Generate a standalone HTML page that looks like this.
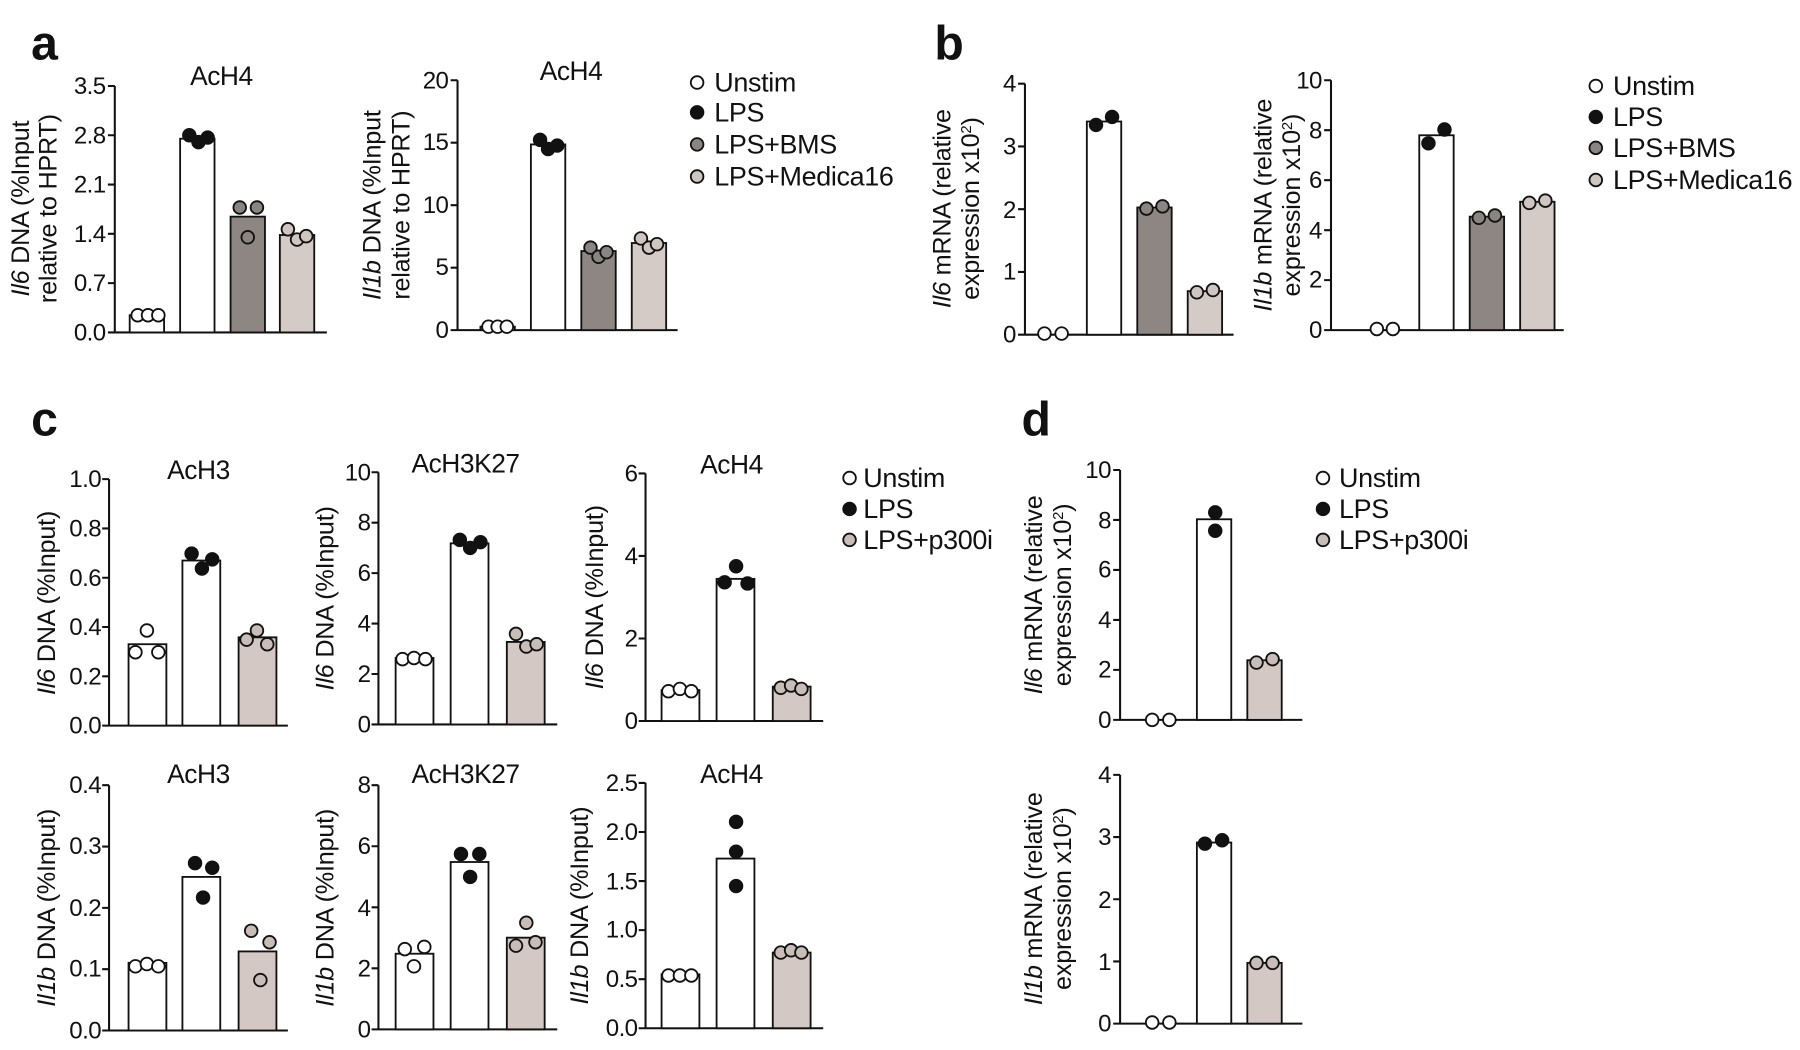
<!DOCTYPE html>
<html><head><meta charset="utf-8"><style>
html,body{margin:0;padding:0;background:#fff;}
svg{display:block;}
text{font-family:"Liberation Sans",Arial,sans-serif;fill:#111;}
.t{font-size:21px;text-anchor:end;letter-spacing:-0.5px;}
.ti{font-size:23px;text-anchor:middle;letter-spacing:-0.4px;}
.lg{font-size:23.5px;letter-spacing:-0.3px;}
.yl{font-size:22px;text-anchor:middle;letter-spacing:-0.2px;}
.L{font-size:42px;font-weight:bold;}
.ax{stroke:#111;stroke-width:1.8;fill:none;}
.b{stroke:#111;stroke-width:1.6;}
.d{stroke:#111;stroke-width:1.6;}
</style></head><body>
<svg width="1800" height="1050" viewBox="0 0 1568 916" xmlns="http://www.w3.org/2000/svg">
<text class="L" x="26" y="52">a</text>
<text class="L" x="814" y="52">b</text>
<text class="L" x="26" y="380">c</text>
<text class="L" x="890" y="380">d</text>

<!-- a1 -->
<path class="ax" d="M99 75V290H284 M93 75H99 M93 118H99 M93 161H99 M93 204H99 M93 247H99 M93 290H99"/>
<text class="t" x="91" y="82">3.5</text><text class="t" x="91" y="125">2.8</text><text class="t" x="91" y="168">2.1</text><text class="t" x="91" y="211">1.4</text><text class="t" x="91" y="254">0.7</text><text class="t" x="91" y="297">0.0</text>
<text class="ti" x="192" y="74">AcH4</text>
<text class="yl" transform="translate(24,182) rotate(-90)"><tspan font-style="italic">Il6</tspan> DNA (%Input</text>
<text class="yl" transform="translate(48,182) rotate(-90)">relative to HPRT)</text>
<rect class="b" x="112" y="275" width="30" height="15" fill="#fff"/>
<rect class="b" x="156" y="121" width="30" height="169" fill="#fff"/>
<rect class="b" x="200" y="189" width="30" height="101" fill="#8e8682"/>
<rect class="b" x="243" y="205" width="30" height="85" fill="#d4cac6"/>
<g class="d" fill="#fff"><circle cx="119" cy="275" r="5.5"/><circle cx="128" cy="275" r="5.5"/><circle cx="137" cy="275" r="5.5"/></g>
<g class="d" fill="#111"><circle cx="164" cy="118" r="5.5"/><circle cx="172" cy="124" r="5.5"/><circle cx="180" cy="120" r="5.5"/></g>
<g class="d" fill="#8a8482"><circle cx="208" cy="181" r="5.5"/><circle cx="223" cy="181" r="5.5"/><circle cx="215" cy="207" r="5.5"/></g>
<g class="d" fill="#cfc5c1"><circle cx="250" cy="200" r="5.5"/><circle cx="258" cy="209" r="5.5"/><circle cx="266" cy="206" r="5.5"/></g>

<!-- a2 -->
<path class="ax" d="M398 70V288H590 M392 70H398 M392 124.5H398 M392 179H398 M392 233.5H398 M392 288H398"/>
<text class="t" x="390" y="77">20</text><text class="t" x="390" y="131">15</text><text class="t" x="390" y="186">10</text><text class="t" x="390" y="240">5</text><text class="t" x="390" y="295">0</text>
<text class="ti" x="497" y="70">AcH4</text>
<text class="yl" transform="translate(331,179) rotate(-90)"><tspan font-style="italic">Il1b</tspan> DNA (%Input</text>
<text class="yl" transform="translate(356,179) rotate(-90)">relative to HPRT)</text>
<rect class="b" x="418" y="285" width="30" height="3" fill="#fff"/>
<rect class="b" x="462" y="126" width="30" height="162" fill="#fff"/>
<rect class="b" x="506" y="219" width="30" height="69" fill="#8e8682"/>
<rect class="b" x="550" y="212" width="30" height="76" fill="#d4cac6"/>
<g class="d" fill="#fff"><circle cx="425" cy="285" r="5.5"/><circle cx="433" cy="285" r="5.5"/><circle cx="441" cy="285" r="5.5"/></g>
<g class="d" fill="#111"><circle cx="470" cy="122" r="5.5"/><circle cx="477" cy="130" r="5.5"/><circle cx="485" cy="127" r="5.5"/></g>
<g class="d" fill="#8a8482"><circle cx="514" cy="216" r="5.5"/><circle cx="521" cy="224" r="5.5"/><circle cx="528" cy="220" r="5.5"/></g>
<g class="d" fill="#cfc5c1"><circle cx="558" cy="208" r="5.5"/><circle cx="565" cy="216" r="5.5"/><circle cx="572" cy="213" r="5.5"/></g>

<!-- legend a -->
<g class="d"><circle cx="607" cy="72" r="5.5" fill="#fff"/><circle cx="607" cy="98" r="5.5" fill="#111"/><circle cx="607" cy="126" r="5.5" fill="#8a8482"/><circle cx="607" cy="154" r="5.5" fill="#cfc5c1"/></g>
<text class="lg" x="622" y="80">Unstim</text><text class="lg" x="622" y="106">LPS</text><text class="lg" x="622" y="134">LPS+BMS</text><text class="lg" x="622" y="162">LPS+Medica16</text>

<!-- b1 -->
<path class="ax" d="M893 73V292H1075 M887 73H893 M887 127.75H893 M887 182.5H893 M887 237.25H893 M887 292H893"/>
<text class="t" x="885" y="80">4</text><text class="t" x="885" y="135">3</text><text class="t" x="885" y="190">2</text><text class="t" x="885" y="244">1</text><text class="t" x="885" y="299">0</text>
<text class="yl" transform="translate(828,182) rotate(-90)"><tspan font-style="italic">Il6</tspan> mRNA (relative</text>
<text class="yl" transform="translate(853,182) rotate(-90)">expression x10<tspan font-size="13" dy="-7">2</tspan><tspan dy="7">)</tspan></text>
<rect class="b" x="947" y="106" width="30" height="186" fill="#fff"/>
<rect class="b" x="991" y="181" width="30" height="111" fill="#8e8682"/>
<rect class="b" x="1035" y="254" width="30" height="38" fill="#d4cac6"/>
<g class="d"><circle cx="910" cy="291" r="5.5" fill="#fff"/><circle cx="925" cy="291" r="5.5" fill="#fff"/>
<circle cx="955" cy="109" r="5.5" fill="#111"/><circle cx="969" cy="102" r="5.5" fill="#111"/>
<circle cx="999" cy="182" r="5.5" fill="#8a8482"/><circle cx="1013" cy="180" r="5.5" fill="#8a8482"/>
<circle cx="1043" cy="255" r="5.5" fill="#cfc5c1"/><circle cx="1057" cy="253" r="5.5" fill="#cfc5c1"/></g>

<!-- b2 -->
<path class="ax" d="M1160 70V288H1363 M1154 70H1160 M1154 113.6H1160 M1154 157.2H1160 M1154 200.8H1160 M1154 244.4H1160 M1154 288H1160"/>
<text class="t" x="1152" y="77">10</text><text class="t" x="1152" y="121">8</text><text class="t" x="1152" y="164">6</text><text class="t" x="1152" y="208">4</text><text class="t" x="1152" y="251">2</text><text class="t" x="1152" y="295">0</text>
<text class="yl" transform="translate(1108,179) rotate(-90)"><tspan font-style="italic">Il1b</tspan> mRNA (relative</text>
<text class="yl" transform="translate(1133,179) rotate(-90)">expression x10<tspan font-size="13" dy="-7">2</tspan><tspan dy="7">)</tspan></text>
<rect class="b" x="1237" y="118" width="30" height="170" fill="#fff"/>
<rect class="b" x="1281" y="189" width="30" height="99" fill="#8e8682"/>
<rect class="b" x="1325" y="176" width="30" height="112" fill="#d4cac6"/>
<g class="d"><circle cx="1200" cy="287" r="5.5" fill="#fff"/><circle cx="1214" cy="287" r="5.5" fill="#fff"/>
<circle cx="1245" cy="125" r="5.5" fill="#111"/><circle cx="1259" cy="113" r="5.5" fill="#111"/>
<circle cx="1289" cy="190" r="5.5" fill="#8a8482"/><circle cx="1303" cy="188" r="5.5" fill="#8a8482"/>
<circle cx="1333" cy="177" r="5.5" fill="#cfc5c1"/><circle cx="1347" cy="175" r="5.5" fill="#cfc5c1"/></g>

<!-- legend b -->
<g class="d"><circle cx="1391" cy="75" r="5.5" fill="#fff"/><circle cx="1391" cy="102" r="5.5" fill="#111"/><circle cx="1391" cy="129" r="5.5" fill="#8a8482"/><circle cx="1391" cy="157" r="5.5" fill="#cfc5c1"/></g>
<text class="lg" x="1406" y="83">Unstim</text><text class="lg" x="1406" y="110">LPS</text><text class="lg" x="1406" y="137">LPS+BMS</text><text class="lg" x="1406" y="165">LPS+Medica16</text>

<!-- c1 -->
<path class="ax" d="M94 418V633H250 M88 418H94 M88 461H94 M88 504H94 M88 547H94 M88 590H94 M88 633H94"/>
<text class="t" x="87" y="425">1.0</text><text class="t" x="87" y="468">0.8</text><text class="t" x="87" y="511">0.6</text><text class="t" x="87" y="554">0.4</text><text class="t" x="87" y="597">0.2</text><text class="t" x="87" y="640">0.0</text>
<text class="ti" x="172" y="418">AcH3</text>
<text class="yl" transform="translate(47,526) rotate(-90)"><tspan font-style="italic">Il6</tspan> DNA (%Input)</text>
<rect class="b" x="111" y="562" width="33" height="71" fill="#fff"/>
<rect class="b" x="158" y="489" width="33" height="144" fill="#fff"/>
<rect class="b" x="207" y="556" width="33" height="77" fill="#d4c8c4"/>
<g class="d"><circle cx="117" cy="569" r="5.5" fill="#fff"/><circle cx="127" cy="550" r="5.5" fill="#fff"/><circle cx="137" cy="569" r="5.5" fill="#fff"/>
<circle cx="166" cy="483" r="5.5" fill="#111"/><circle cx="175" cy="496" r="5.5" fill="#111"/><circle cx="184" cy="488" r="5.5" fill="#111"/>
<circle cx="214" cy="558" r="5.5" fill="#c9bdb8"/><circle cx="223" cy="550" r="5.5" fill="#c9bdb8"/><circle cx="232" cy="562" r="5.5" fill="#c9bdb8"/></g>

<!-- c2 -->
<path class="ax" d="M329 412V632H485 M323 412H329 M323 456H329 M323 500H329 M323 544H329 M323 588H329 M323 632H329"/>
<text class="t" x="322" y="419">10</text><text class="t" x="322" y="463">8</text><text class="t" x="322" y="507">6</text><text class="t" x="322" y="551">4</text><text class="t" x="322" y="595">2</text><text class="t" x="322" y="639">0</text>
<text class="ti" x="405" y="412">AcH3K27</text>
<text class="yl" transform="translate(290,522) rotate(-90)"><tspan font-style="italic">Il6</tspan> DNA (%Input)</text>
<rect class="b" x="344" y="574" width="33" height="58" fill="#fff"/>
<rect class="b" x="392" y="474" width="33" height="158" fill="#fff"/>
<rect class="b" x="441" y="560" width="33" height="72" fill="#d4c8c4"/>
<g class="d"><circle cx="350" cy="575" r="5.5" fill="#fff"/><circle cx="360" cy="574" r="5.5" fill="#fff"/><circle cx="370" cy="575" r="5.5" fill="#fff"/>
<circle cx="400" cy="471" r="5.5" fill="#111"/><circle cx="409" cy="478" r="5.5" fill="#111"/><circle cx="418" cy="473" r="5.5" fill="#111"/>
<circle cx="449" cy="553" r="5.5" fill="#c9bdb8"/><circle cx="458" cy="564" r="5.5" fill="#c9bdb8"/><circle cx="467" cy="562" r="5.5" fill="#c9bdb8"/></g>

<!-- c3 -->
<path class="ax" d="M562 413V629H717 M556 413H562 M556 485H562 M556 557H562 M556 629H562"/>
<text class="t" x="555" y="420">6</text><text class="t" x="555" y="492">4</text><text class="t" x="555" y="564">2</text><text class="t" x="555" y="636">0</text>
<text class="ti" x="637" y="413">AcH4</text>
<text class="yl" transform="translate(525,521) rotate(-90)"><tspan font-style="italic">Il6</tspan> DNA (%Input)</text>
<rect class="b" x="576" y="602" width="33" height="27" fill="#fff"/>
<rect class="b" x="624" y="505" width="33" height="124" fill="#fff"/>
<rect class="b" x="673" y="599" width="33" height="30" fill="#d4c8c4"/>
<g class="d"><circle cx="582" cy="603" r="5.5" fill="#fff"/><circle cx="592" cy="601" r="5.5" fill="#fff"/><circle cx="602" cy="603" r="5.5" fill="#fff"/>
<circle cx="631" cy="508" r="5.5" fill="#111"/><circle cx="641" cy="494" r="5.5" fill="#111"/><circle cx="651" cy="509" r="5.5" fill="#111"/>
<circle cx="680" cy="600" r="5.5" fill="#c9bdb8"/><circle cx="689" cy="598" r="5.5" fill="#c9bdb8"/><circle cx="698" cy="601" r="5.5" fill="#c9bdb8"/></g>

<!-- legend c -->
<g class="d"><circle cx="740" cy="417" r="5.5" fill="#fff"/><circle cx="740" cy="444" r="5.5" fill="#111"/><circle cx="740" cy="471" r="5.5" fill="#c9bdb8"/></g>
<text class="lg" x="752" y="425">Unstim</text><text class="lg" x="752" y="452">LPS</text><text class="lg" x="752" y="479">LPS+p300i</text>

<!-- c4 -->
<path class="ax" d="M94 685V899H250 M88 685H94 M88 738.5H94 M88 792H94 M88 845.5H94 M88 899H94"/>
<text class="t" x="87" y="692">0.4</text><text class="t" x="87" y="745">0.3</text><text class="t" x="87" y="799">0.2</text><text class="t" x="87" y="852">0.1</text><text class="t" x="87" y="906">0.0</text>
<text class="ti" x="172" y="683">AcH3</text>
<text class="yl" transform="translate(47,792) rotate(-90)"><tspan font-style="italic">Il1b</tspan> DNA (%Input)</text>
<rect class="b" x="111" y="840" width="33" height="59" fill="#fff"/>
<rect class="b" x="158" y="765" width="33" height="134" fill="#fff"/>
<rect class="b" x="207" y="830" width="33" height="69" fill="#d4c8c4"/>
<g class="d"><circle cx="117" cy="843" r="5.5" fill="#fff"/><circle cx="127" cy="841" r="5.5" fill="#fff"/><circle cx="137" cy="843" r="5.5" fill="#fff"/>
<circle cx="169" cy="753" r="5.5" fill="#111"/><circle cx="184" cy="757" r="5.5" fill="#111"/><circle cx="176" cy="783" r="5.5" fill="#111"/>
<circle cx="218" cy="812" r="5.5" fill="#c9bdb8"/><circle cx="234" cy="822" r="5.5" fill="#c9bdb8"/><circle cx="226" cy="855" r="5.5" fill="#c9bdb8"/></g>

<!-- c5 -->
<path class="ax" d="M329 685V898H485 M323 685H329 M323 738.25H329 M323 791.5H329 M323 844.75H329 M323 898H329"/>
<text class="t" x="322" y="692">8</text><text class="t" x="322" y="745">6</text><text class="t" x="322" y="799">4</text><text class="t" x="322" y="852">2</text><text class="t" x="322" y="905">0</text>
<text class="ti" x="405" y="683">AcH3K27</text>
<text class="yl" transform="translate(290,792) rotate(-90)"><tspan font-style="italic">Il1b</tspan> DNA (%Input)</text>
<rect class="b" x="344" y="832" width="33" height="66" fill="#fff"/>
<rect class="b" x="392" y="752" width="33" height="146" fill="#fff"/>
<rect class="b" x="441" y="818" width="33" height="80" fill="#d4c8c4"/>
<g class="d"><circle cx="352" cy="828" r="5.5" fill="#fff"/><circle cx="369" cy="826" r="5.5" fill="#fff"/><circle cx="360" cy="843" r="5.5" fill="#fff"/>
<circle cx="401" cy="745" r="5.5" fill="#111"/><circle cx="417" cy="745" r="5.5" fill="#111"/><circle cx="409" cy="765" r="5.5" fill="#111"/>
<circle cx="449" cy="825" r="5.5" fill="#c9bdb8"/><circle cx="458" cy="805" r="5.5" fill="#c9bdb8"/><circle cx="466" cy="822" r="5.5" fill="#c9bdb8"/></g>

<!-- c6 -->
<path class="ax" d="M562 683V897H717 M556 683H562 M556 725.8H562 M556 768.6H562 M556 811.4H562 M556 854.2H562 M556 897H562"/>
<text class="t" x="555" y="690">2.5</text><text class="t" x="555" y="733">2.0</text><text class="t" x="555" y="776">1.5</text><text class="t" x="555" y="818">1.0</text><text class="t" x="555" y="861">0.5</text><text class="t" x="555" y="904">0.0</text>
<text class="ti" x="637" y="683">AcH4</text>
<text class="yl" transform="translate(512,790) rotate(-90)"><tspan font-style="italic">Il1b</tspan> DNA (%Input)</text>
<rect class="b" x="576" y="850" width="33" height="47" fill="#fff"/>
<rect class="b" x="624" y="749" width="33" height="148" fill="#fff"/>
<rect class="b" x="673" y="831" width="33" height="66" fill="#d4c8c4"/>
<g class="d"><circle cx="582" cy="851" r="5.5" fill="#fff"/><circle cx="592" cy="851" r="5.5" fill="#fff"/><circle cx="602" cy="851" r="5.5" fill="#fff"/>
<circle cx="641" cy="717" r="5.5" fill="#111"/><circle cx="641" cy="743" r="5.5" fill="#111"/><circle cx="641" cy="773" r="5.5" fill="#111"/>
<circle cx="680" cy="831" r="5.5" fill="#c9bdb8"/><circle cx="689" cy="829" r="5.5" fill="#c9bdb8"/><circle cx="698" cy="831" r="5.5" fill="#c9bdb8"/></g>

<!-- d1 -->
<path class="ax" d="M976 410V628H1135 M970 410H976 M970 453.6H976 M970 497.2H976 M970 540.8H976 M970 584.4H976 M970 628H976"/>
<text class="t" x="968" y="417">10</text><text class="t" x="968" y="461">8</text><text class="t" x="968" y="504">6</text><text class="t" x="968" y="548">4</text><text class="t" x="968" y="591">2</text><text class="t" x="968" y="635">0</text>
<text class="yl" transform="translate(908,519) rotate(-90)"><tspan font-style="italic">Il6</tspan> mRNA (relative</text>
<text class="yl" transform="translate(933,519) rotate(-90)">expression x10<tspan font-size="13" dy="-7">2</tspan><tspan dy="7">)</tspan></text>
<rect class="b" x="1043" y="453" width="30" height="175" fill="#fff"/>
<rect class="b" x="1087" y="576" width="30" height="52" fill="#d4c8c4"/>
<g class="d"><circle cx="1004" cy="628" r="5.5" fill="#fff"/><circle cx="1019" cy="628" r="5.5" fill="#fff"/>
<circle cx="1059" cy="447" r="5.5" fill="#111"/><circle cx="1059" cy="463" r="5.5" fill="#111"/>
<circle cx="1095" cy="578" r="5.5" fill="#c9bdb8"/><circle cx="1109" cy="575" r="5.5" fill="#c9bdb8"/></g>

<!-- legend d -->
<g class="d"><circle cx="1153" cy="417" r="5.5" fill="#fff"/><circle cx="1153" cy="444" r="5.5" fill="#111"/><circle cx="1153" cy="471" r="5.5" fill="#c9bdb8"/></g>
<text class="lg" x="1167" y="425">Unstim</text><text class="lg" x="1167" y="452">LPS</text><text class="lg" x="1167" y="479">LPS+p300i</text>

<!-- d2 -->
<path class="ax" d="M976 676V893H1135 M970 676H976 M970 730.25H976 M970 784.5H976 M970 838.75H976 M970 893H976"/>
<text class="t" x="968" y="683">4</text><text class="t" x="968" y="737">3</text><text class="t" x="968" y="792">2</text><text class="t" x="968" y="846">1</text><text class="t" x="968" y="900">0</text>
<text class="yl" transform="translate(908,784) rotate(-90)"><tspan font-style="italic">Il1b</tspan> mRNA (relative</text>
<text class="yl" transform="translate(933,784) rotate(-90)">expression x10<tspan font-size="13" dy="-7">2</tspan><tspan dy="7">)</tspan></text>
<rect class="b" x="1043" y="735" width="30" height="158" fill="#fff"/>
<rect class="b" x="1087" y="840" width="30" height="53" fill="#d4c8c4"/>
<g class="d"><circle cx="1004" cy="892" r="5.5" fill="#fff"/><circle cx="1019" cy="892" r="5.5" fill="#fff"/>
<circle cx="1050" cy="736" r="5.5" fill="#111"/><circle cx="1065" cy="733" r="5.5" fill="#111"/>
<circle cx="1095" cy="840" r="5.5" fill="#c9bdb8"/><circle cx="1109" cy="840" r="5.5" fill="#c9bdb8"/></g>
</svg>
</body></html>
